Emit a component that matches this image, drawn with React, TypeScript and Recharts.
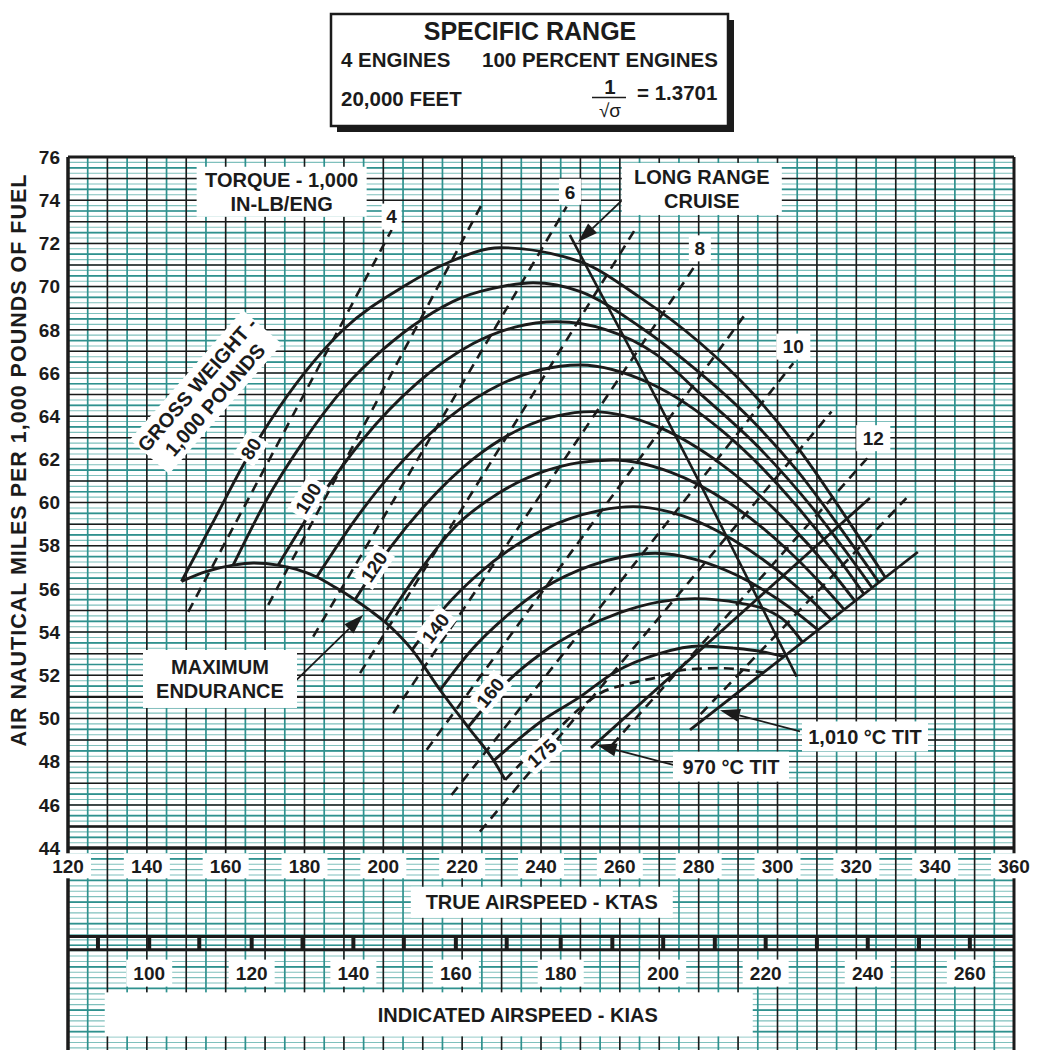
import React from "react";
import {
  ComposedChart,
  Line,
  XAxis,
  YAxis,
  CartesianGrid,
  ReferenceLine,
  ReferenceDot,
} from "recharts";

type Pt = [number, number];

const FONT = '"Liberation Sans", Arial, Helvetica, sans-serif';
const INK = "#1b1b1b";

// gross weight curves, 1,000 lb : [KTAS, air nautical miles per 1,000 lb of fuel]
const gw80: Pt[] = [[148.8, 56.35], [157.1, 59.2], [165.3, 62.0], [171.2, 63.75], [180, 66.0], [189.8, 68.0], [205.1, 70.0], [216.9, 71.15], [229.6, 71.8], [249.9, 71.15], [265.1, 69.5], [280.3, 67.4], [293, 65.2], [304.9, 62.6], [316.7, 59.5], [327.3, 56.55]];
const gw90: Pt[] = [[161.9, 57.1], [170, 60.0], [180, 62.9], [190, 65.3], [200, 67.1], [210, 68.5], [220, 69.5], [230, 70.0], [238, 70.18], [250, 69.77], [265.1, 68.14], [280.3, 66.0], [293, 63.9], [304.9, 61.5], [316, 58.8], [325.7, 56.3]];
const gw100: Pt[] = [[173.3, 57.1], [183.9, 60.2], [194.5, 62.85], [208.7, 65.55], [222.8, 67.36], [233.4, 68.12], [244, 68.37], [256.6, 68.0], [269.3, 66.85], [280, 65.1], [295, 62.6], [310, 59.5], [324, 56.06]];
const gw110: Pt[] = [[183.1, 56.55], [193.1, 59.27], [203.1, 61.56], [216.5, 63.92], [229.9, 65.49], [239.9, 66.15], [249.9, 66.37], [267.9, 65.5], [285.9, 63.33], [303.9, 60.05], [314.7, 57.6], [321.9, 55.77]];
const gw120: Pt[] = [[192.8, 55.5], [201.8, 57.92], [210.9, 59.94], [222.9, 62.03], [235, 63.43], [244, 64.01], [253, 64.21], [269.7, 63.5], [286.3, 61.7], [303, 59.0], [313, 56.97], [319.6, 55.45]];
const gw130: Pt[] = [[200.4, 54.47], [209.1, 56.8], [217.8, 58.8], [229.4, 60.45], [240.9, 61.45], [249.6, 61.85], [258.3, 61.97], [273, 61.4], [287.6, 60.0], [302.3, 57.85], [311, 56.25], [316.9, 55.05]];
const gw140: Pt[] = [[207.3, 53.18], [215.7, 55.17], [224.1, 56.69], [235.4, 58.22], [246.6, 59.21], [255, 59.64], [263.4, 59.81], [276, 59.38], [288.5, 58.3], [301, 56.7], [308.6, 55.48], [313.6, 54.58]];
const gw150: Pt[] = [[214.4, 51.32], [222.6, 53.22], [230.8, 54.67], [240.6, 56.03], [252.6, 57.08], [260.8, 57.49], [269, 57.65], [279.3, 57.36], [289.7, 56.63], [300, 55.53], [306.2, 54.71], [310.3, 54.1]];
const gw160: Pt[] = [[221.5, 49.6], [232, 51.8], [240, 53.0], [249.9, 54.1], [260, 54.9], [270, 55.4], [279, 55.55], [290.5, 55.34], [297.2, 55.03], [302, 54.5], [306.3, 53.55]];
const gw170: Pt[] = [[228, 48.05], [240.6, 49.94], [249.9, 51.0], [258.3, 52.1], [270.2, 53.02], [280.3, 53.36], [288.8, 53.26], [296, 53.1], [301.6, 52.87]];
const gw175: Pt[] = [[230.9, 47.16], [237, 48.3], [244, 49.45], [250, 50.5], [255, 51.17], [262, 51.6], [270.2, 51.94], [276.1, 52.25], [285, 52.33], [296.4, 52.13]];

const maxEndurance: Pt[] = [[148.8, 56.35], [155, 56.8], [161.9, 57.1], [167, 57.2], [173.3, 57.1], [178, 56.9], [183.1, 56.55], [188, 56.05], [192.8, 55.5], [196.8, 54.98], [200.4, 54.47], [204, 53.85], [207.3, 53.18], [214.4, 51.32], [221.5, 49.6], [228, 48.05], [230.9, 47.16]];
const longRangeCruise: Pt[] = [[247.3, 72.39], [266.8, 65.68], [280.3, 60.9], [304.85, 51.94]];
const tit970: Pt[] = [[252.7, 48.64], [323.45, 60.21]];
const tit1010: Pt[] = [[277.8, 49.47], [335.6, 57.71]];

// torque - 1,000 in-lb/eng (dashed)
const torque4: Pt[] = [[150.5, 54.94], [202.1, 72.62]];
const torque5: Pt[] = [[170.8, 55.26], [224.9, 73.78]];
const torque6: Pt[] = [[182.2, 53.79], [246.5, 73.7]];
const torque7: Pt[] = [[194.1, 52.1], [264.3, 72.77]];
const torque8: Pt[] = [[202.5, 50.24], [279.5, 71.08]];
const torque9: Pt[] = [[211, 48.55], [291.7, 68.69]];
const torque10: Pt[] = [[217.3, 46.46], [304, 66.45]];
const torque11: Pt[] = [[224.5, 44.76], [313.7, 64.21]];
const torque12: Pt[] = [[258, 48.77], [323.9, 62.28]];
const torque13: Pt[] = [[280.5, 50.2], [332.7, 60.2]];

const yTicks = [44, 46, 48, 50, 52, 54, 56, 58, 60, 62, 64, 66, 68, 70, 72, 74, 76];
const ktasTicks = [120, 140, 160, 180, 200, 220, 240, 260, 280, 300, 320, 340, 360];
const kiasTicks = [90, 100, 110, 120, 130, 140, 150, 160, 170, 180, 190, 200, 210, 220, 230, 240, 250, 260];
const kiasAtKtas = [127.6, 140.6, 153.3, 166.6, 179.5, 192.4, 205.2, 218.4, 231.3, 245.0, 258.1, 271.0, 284.1, 297.0, 310.0, 322.9, 335.9, 348.8];

const solidCurves = [gw80, gw90, gw100, gw110, gw120, gw130, gw140, gw150, gw160, gw170];
const torqueLines = [torque4, torque5, torque6, torque7, torque8, torque9, torque10, torque11, torque12, torque13];

const weightLabels = [
  { t: "80", x: 166.4, y: 62.5, a: -58, w: 28 },
  { t: "100", x: 180.9, y: 60.2, a: -58, w: 40 },
  { t: "120", x: 197.6, y: 57.03, a: -56, w: 40 },
  { t: "140", x: 213.2, y: 54.18, a: -52, w: 40 },
  { t: "160", x: 227.1, y: 51.2, a: -50, w: 40 },
  { t: "175", x: 240.2, y: 48.4, a: -42, w: 40 },
];
const torqueLabels = [
  { t: "4", x: 202.1, y: 73.24, w: 20 },
  { t: "6", x: 247.35, y: 74.39, w: 22 },
  { t: "8", x: 280.3, y: 71.77, w: 22 },
  { t: "10", x: 304.0, y: 67.22, w: 34 },
  { t: "12", x: 324.3, y: 62.98, w: 34 },
];

const steps = (from: number, to: number, step: number) => {
  const out: number[] = [];
  for (let v = from; v <= to + 1e-9; v += step) out.push(Math.round(v * 1000) / 1000);
  return out;
};
const Y_MIN = 34.65;
const tealV = steps(120, 360, 1.25);
const tealV5 = steps(125, 355, 10);
const tealH = steps(34.75, 76, 0.25);
const tealH5 = steps(35.5, 75.5, 1);
const blackV = steps(120, 360, 10);
const blackH = steps(44, 76, 1);

const pts = (p: Pt[]) => p.map(([x, y]) => ({ x, y }));

const Boxed = (props: any) => {
  const { cx, cy, lines, w, h, fs = 20, angle = 0, dx = 0 } = props;
  if (cx == null || cy == null) return null;
  const lh = fs * 1.17;
  const bh = h ?? lines.length * lh + 6;
  return (
    <g transform={angle ? `rotate(${angle} ${cx} ${cy})` : undefined}>
      <rect x={cx - w / 2 + dx} y={cy - bh / 2} width={w} height={bh} fill="#fff" />
      {lines.map((t: string, i: number) => (
        <text
          key={i}
          x={cx}
          y={cy - ((lines.length - 1) * lh) / 2 + i * lh + fs * 0.36}
          textAnchor="middle"
          fontFamily={FONT}
          fontWeight={700}
          fontSize={fs}
          fill={INK}
        >
          {t}
        </text>
      ))}
    </g>
  );
};

const Arrow = (props: any) => {
  const { x1, y1, x2, y2 } = props;
  if (x1 == null) return null;
  const a = Math.atan2(y2 - y1, x2 - x1);
  const L = 20;
  const W = 6.5;
  const bx = x2 - L * Math.cos(a);
  const by = y2 - L * Math.sin(a);
  const p1 = `${bx - W * Math.sin(a)},${by + W * Math.cos(a)}`;
  const p2 = `${bx + W * Math.sin(a)},${by - W * Math.cos(a)}`;
  return (
    <g>
      <line x1={x1} y1={y1} x2={bx} y2={by} stroke={INK} strokeWidth={1.8} />
      <polygon points={`${x2},${y2} ${p1} ${p2}`} fill={INK} />
    </g>
  );
};

const label = (key: string, x: number, y: number, lines: string[], w: number, h?: number, fs = 20, angle = 0, dx = 0) => (
  <ReferenceDot
    key={key}
    x={x}
    y={y}
    r={0}
    zIndex={1500}
    shape={(p: any) => <Boxed {...p} lines={lines} w={w} h={h} fs={fs} angle={angle} dx={dx} />}
  />
);

const arrow = (key: string, from: Pt, to: Pt) => (
  <ReferenceLine
    key={key}
    zIndex={1400}
    segment={[{ x: from[0], y: from[1] }, { x: to[0], y: to[1] }]}
    shape={Arrow}
  />
);

export default function App() {
  return (
    <div style={{ position: "absolute", left: 0, top: 0, width: 1039, height: 1050, background: "#fff" }}>
      <ComposedChart width={1039} height={1050} margin={{ top: 157, right: 25, bottom: 0, left: 8 }}>
        <XAxis type="number" dataKey="x" domain={[120, 360]} hide allowDataOverflow />
        <YAxis
          type="number"
          domain={[Y_MIN, 76]}
          ticks={yTicks}
          interval={0}
          width={60}
          axisLine={false}
          tickLine={false}
          allowDataOverflow
          tick={{ fontSize: 19, fontWeight: 700, fill: INK, fontFamily: FONT }}
        />
        <CartesianGrid horizontalValues={tealH} verticalValues={tealV} stroke="#7fc0bd" strokeWidth={1.1} />
        <CartesianGrid horizontalValues={tealH5} verticalValues={tealV5} stroke="#2f918e" strokeWidth={1.7} />
        <CartesianGrid horizontal={false} verticalValues={blackV} stroke={INK} strokeWidth={1.6} />
        <CartesianGrid vertical={false} horizontalValues={blackH} stroke={INK} strokeWidth={1.5} />

        <ReferenceLine x={120} stroke={INK} strokeWidth={3.5} />
        <ReferenceLine x={360} stroke={INK} strokeWidth={3} />
        <ReferenceLine y={76} stroke={INK} strokeWidth={3} />
        <ReferenceLine y={44} stroke={INK} strokeWidth={3.5} />
        <ReferenceLine y={45} stroke={INK} strokeWidth={2.6} />
        <ReferenceLine y={51} stroke={INK} strokeWidth={2.2} />
        <ReferenceLine y={39.9} stroke={INK} strokeWidth={3} />
        <ReferenceLine y={39.29} stroke={INK} strokeWidth={3} />
        {kiasAtKtas.map((k, i) => (
          <ReferenceLine
            key={`kt${kiasTicks[i]}`}
            segment={[{ x: k, y: 39.29 }, { x: k, y: 39.9 }]}
            stroke={INK}
            strokeWidth={4}
          />
        ))}

        {torqueLines.map((d, i) => (
          <Line
            key={`tq${i}`}
            data={pts(d)}
            dataKey="y"
            type="linear"
            stroke={INK}
            strokeWidth={2.6}
            strokeDasharray="10 7"
            dot={false}
            activeDot={false}
            isAnimationActive={false}
          />
        ))}
        {solidCurves.map((d, i) => (
          <Line
            key={`gw${i}`}
            data={pts(d)}
            dataKey="y"
            type="monotone"
            stroke={INK}
            strokeWidth={2.9}
            dot={false}
            activeDot={false}
            isAnimationActive={false}
          />
        ))}
        <Line data={pts(gw175)} dataKey="y" type="monotone" stroke={INK} strokeWidth={2.7} strokeDasharray="10 6" dot={false} activeDot={false} isAnimationActive={false} />
        <Line data={pts(maxEndurance)} dataKey="y" type="monotone" stroke={INK} strokeWidth={2.9} dot={false} activeDot={false} isAnimationActive={false} />
        <Line data={pts(longRangeCruise)} dataKey="y" type="monotone" stroke={INK} strokeWidth={2.6} dot={false} activeDot={false} isAnimationActive={false} />
        <Line data={pts(tit970)} dataKey="y" type="linear" stroke={INK} strokeWidth={2.8} dot={false} activeDot={false} isAnimationActive={false} />
        <Line data={pts(tit1010)} dataKey="y" type="linear" stroke={INK} strokeWidth={2.8} dot={false} activeDot={false} isAnimationActive={false} />

        {arrow("a-lrc", [264.1, 74.61], [249.4, 72.06])}
        {arrow("a-me", [178.0, 51.79], [194.9, 54.8])}
        {arrow("a-970", [275.25, 47.77], [254.1, 48.78])}
        {arrow("a-1010", [305.7, 49.4], [285.4, 50.38])}

        {weightLabels.map((l) => label(`w${l.t}`, l.x, l.y, [l.t], l.w, 24, 19, l.a))}
        {torqueLabels.map((l) => label(`t${l.t}`, l.x, l.y, [l.t], l.w, 26, 19))}
        {label("torque", 174.2, 74.39, ["TORQUE - 1,000", "IN-LB/ENG"], 170, 50)}
        {label("gross", 155.0, 65.12, ["GROSS WEIGHT -", "1,000 POUNDS"], 172, 52, 20, -49)}
        {label("lrc", 280.8, 74.52, ["LONG RANGE", "CRUISE"], 160, 52)}
        {label("me", 158.56, 51.83, ["MAXIMUM", "ENDURANCE"], 154, 58)}
        {label("t970", 288.2, 47.77, ["970 °C TIT"], 116, 30)}
        {label("t1010", 322.2, 49.17, ["1,010 °C TIT"], 126, 30)}

        {ktasTicks.map((v) => label(`k${v}`, v, 43.18, [String(v)], 46, 25, 19))}
        {label("ktas", 240.2, 41.49, ["TRUE AIRSPEED - KTAS"], 262, 31)}
        {kiasTicks
          .map((v, i) => ({ v, k: kiasAtKtas[i] }))
          .filter((d) => d.v % 20 === 0)
          .map((d) => label(`i${d.v}`, d.k, 38.21, [String(d.v)], 46, 27, 19))}
        {label("kias", 234.1, 36.3, ["INDICATED AIRSPEED - KIAS"], 648, 44, 20, 0, -89)}
      </ComposedChart>

      <svg width={1039} height={1050} style={{ position: "absolute", left: 0, top: 0, pointerEvents: "none" }}>
        <rect x={337} y={20} width={397} height={112} fill={INK} />
        <rect x={331} y={14} width={397} height={112} fill="#fff" stroke={INK} strokeWidth={2.5} />
        <g fontFamily={FONT} fontWeight={700} fill={INK}>
          <text x={530} y={40} fontSize={25} textAnchor="middle">SPECIFIC RANGE</text>
          <text x={341} y={67} fontSize={20.5}>4 ENGINES</text>
          <text x={482} y={67} fontSize={20.5}>100 PERCENT ENGINES</text>
          <text x={341} y={106} fontSize={20.5}>20,000 FEET</text>
          <text x={610} y={94} fontSize={20.5} textAnchor="middle">1</text>
          <line x1={592} y1={97.5} x2={626} y2={97.5} stroke={INK} strokeWidth={1.6} />
          <text x={610} y={117} fontSize={19} fontWeight={400} textAnchor="middle">√σ</text>
          <text x={637} y={100} fontSize={20.5}>= 1.3701</text>
          <text x={19} y={460} fontSize={21.5} letterSpacing={1} textAnchor="middle" dominantBaseline="central" transform="rotate(-90 19 460)">
            AIR NAUTICAL MILES PER 1,000 POUNDS OF FUEL
          </text>
        </g>
      </svg>
    </div>
  );
}
